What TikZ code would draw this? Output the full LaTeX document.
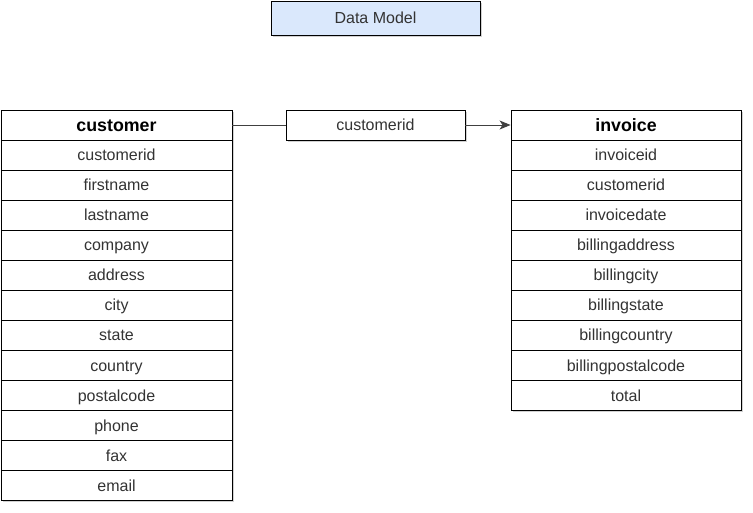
\documentclass[tikz,border=0pt]{standalone}
\usepackage{fontspec}
\setmainfont{Liberation Sans}
\usetikzlibrary{shadows,arrows.meta}
\definecolor{txt}{HTML}{333333}
\definecolor{bluefill}{HTML}{DAE8FC}
\begin{document}
\begin{tikzpicture}[x=1pt,y=-1pt,
  shad/.style={drop shadow={shadow xshift=2pt,shadow yshift=-2pt,fill=black,opacity=0.18}},
  box/.style={draw=black,line width=0.9pt,fill=white,minimum height=30pt,inner sep=0pt,shad,
    font=\fontsize{16}{18}\selectfont,text=txt,text height=12pt,text depth=0pt},
  hdr/.style={box,font=\fontsize{17.8}{20}\selectfont\bfseries,text=black,text height=13pt,text depth=0pt},
  conn/.style={draw=black!75,line width=0.9pt}]
\useasboundingbox (0,0) rectangle (753,513);
\node[box,fill=bluefill,minimum width=209pt,minimum height=34pt] (title) at (375.5,18) {Data Model};
% customer table
\node[hdr,minimum width=231pt] (cust) at (116.5,125) {customer};
\foreach \t [count=\i] in {customerid,firstname,lastname,company,address,city,state,country,postalcode,phone,fax,email}{
  \node[box,minimum width=231pt] (c\i) at (116.5,125+30*\i) {\t};
}
% invoice table
\node[hdr,minimum width=230pt] (inv) at (626,125) {invoice};
\foreach \t [count=\i] in {invoiceid,customerid,invoicedate,billingaddress,billingcity,billingstate,billingcountry,billingpostalcode,total}{
  \node[box,minimum width=230pt] (i\i) at (626,125+30*\i) {\t};
}
\node[box,minimum width=179pt] (rel) at (375.5,125) {customerid};
\draw[conn] (cust.east) -- (rel.west);
\draw[conn,-{Stealth[length=11pt,width=9pt,inset=3pt]}] (rel.east) -- (inv.west);
\end{tikzpicture}
\end{document}
